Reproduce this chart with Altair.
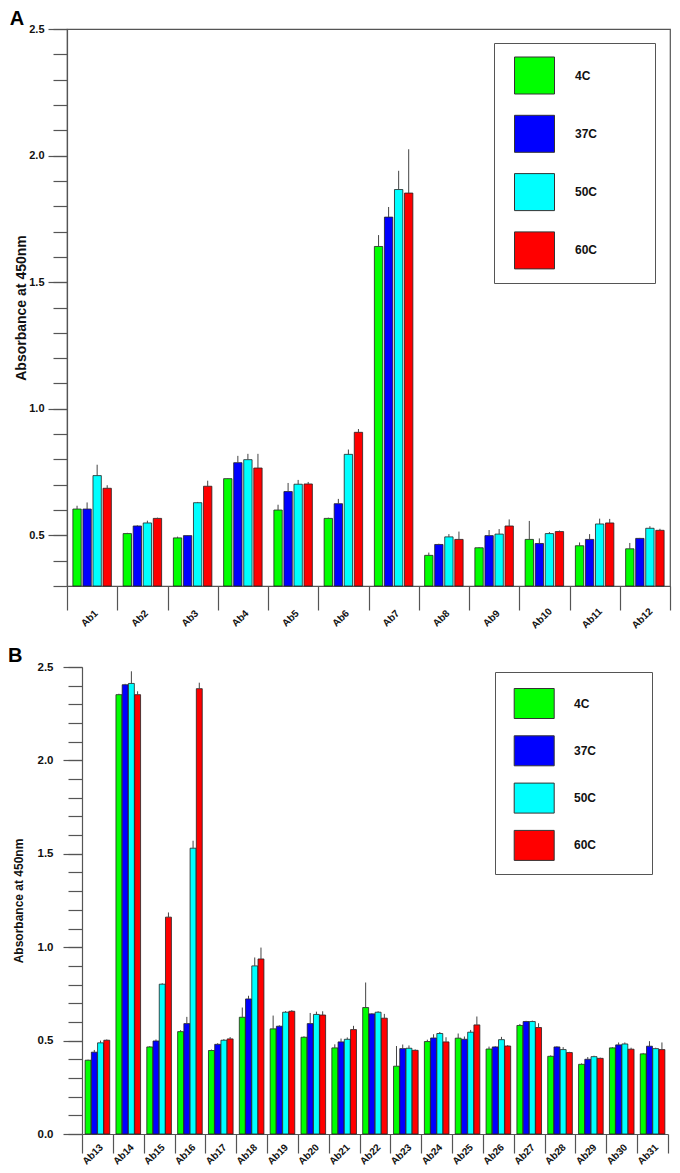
import altair as alt
import pandas as pd

FONT = "Liberation Sans"
temps = ["4C", "37C", "50C", "60C"]
colors = ["#00FF00", "#0000FF", "#00FFFF", "#FF0000"]

# ---------------- Panel A ----------------
cats_a = ["Ab1", "Ab2", "Ab3", "Ab4", "Ab5", "Ab6", "Ab7", "Ab8", "Ab9", "Ab10", "Ab11", "Ab12"]
a_4c = [0.604, 0.507, 0.490, 0.724, 0.600, 0.567, 1.641, 0.421, 0.451, 0.484, 0.459, 0.447]
a_37c = [0.604, 0.537, 0.499, 0.787, 0.673, 0.625, 1.757, 0.464, 0.499, 0.468, 0.484, 0.488]
a_50c = [0.736, 0.549, 0.629, 0.799, 0.702, 0.820, 1.866, 0.494, 0.505, 0.507, 0.545, 0.528]
a_60c = [0.686, 0.567, 0.694, 0.766, 0.703, 0.907, 1.852, 0.484, 0.537, 0.515, 0.549, 0.520]
a_err_4c = [0.013, 0.003, 0.005, 0.002, 0.021, 0.003, 0.045, 0.011, 0.003, 0.073, 0.013, 0.023]
a_err_37c = [0.026, 0.003, 0.002, 0.027, 0.034, 0.019, 0.040, 0.003, 0.022, 0.020, 0.021, 0.002]
a_err_50c = [0.043, 0.009, 0.003, 0.023, 0.017, 0.019, 0.074, 0.011, 0.020, 0.006, 0.021, 0.008]
a_err_60c = [0.012, 0.003, 0.022, 0.056, 0.008, 0.013, 0.173, 0.031, 0.026, 0.004, 0.016, 0.006]

# ---------------- Panel B ----------------
cats_b = ["Ab13", "Ab14", "Ab15", "Ab16", "Ab17", "Ab18", "Ab19", "Ab20", "Ab21", "Ab22",
          "Ab23", "Ab24", "Ab25", "Ab26", "Ab27", "Ab28", "Ab29", "Ab30", "Ab31"]
b_4c = [0.395, 2.352, 0.466, 0.548, 0.447, 0.625, 0.563, 0.518, 0.461, 0.677,
        0.363, 0.495, 0.513, 0.455, 0.581, 0.416, 0.373, 0.461, 0.429]
b_37c = [0.438, 2.405, 0.498, 0.591, 0.480, 0.723, 0.577, 0.591, 0.493, 0.643,
         0.457, 0.514, 0.507, 0.466, 0.602, 0.466, 0.400, 0.477, 0.470]
b_50c = [0.488, 2.412, 0.802, 1.530, 0.502, 0.900, 0.652, 0.640, 0.507, 0.652,
         0.459, 0.538, 0.545, 0.505, 0.602, 0.452, 0.414, 0.482, 0.457]
b_60c = [0.502, 2.352, 1.161, 2.384, 0.509, 0.937, 0.657, 0.637, 0.559, 0.620,
         0.448, 0.493, 0.584, 0.471, 0.570, 0.436, 0.405, 0.454, 0.452]
b_err_4c = [0.003, 0.005, 0.005, 0.008, 0.005, 0.052, 0.071, 0.005, 0.019, 0.134,
            0.108, 0.010, 0.025, 0.013, 0.008, 0.005, 0.005, 0.004, 0.005]
b_err_37c = [0.012, 0.005, 0.008, 0.036, 0.006, 0.017, 0.005, 0.057, 0.018, 0.004,
             0.022, 0.020, 0.015, 0.004, 0.004, 0.004, 0.012, 0.013, 0.027]
b_err_50c = [0.012, 0.065, 0.005, 0.040, 0.006, 0.045, 0.006, 0.015, 0.010, 0.005,
             0.015, 0.008, 0.012, 0.015, 0.005, 0.013, 0.005, 0.008, 0.005]
b_err_60c = [0.004, 0.018, 0.025, 0.032, 0.010, 0.061, 0.006, 0.020, 0.020, 0.023,
             0.005, 0.025, 0.045, 0.005, 0.023, 0.004, 0.004, 0.008, 0.038]

major_ticks = [0.0, 0.5, 1.0, 1.5, 2.0, 2.5]


def make_df(cats, series, errs):
    rows = []
    for t, vals, es in zip(temps, series, errs):
        for c, v, e in zip(cats, vals, es):
            rows.append({"ab": c, "temp": t, "val": v, "top": v + e})
    return pd.DataFrame(rows)


df_a = make_df(cats_a, [a_4c, a_37c, a_50c, a_60c], [a_err_4c, a_err_37c, a_err_50c, a_err_60c])
df_b = make_df(cats_b, [b_4c, b_37c, b_50c, b_60c], [b_err_4c, b_err_37c, b_err_50c, b_err_60c])

GRAY = "#555555"


def panel(df, cats, letter, width, height, ymin, p):
    shift = p["shift"]
    minor = [round(ymin + 0.1 * i, 1) for i in range(int(round((2.5 - ymin) / 0.1)) + 1)]
    major = [v for v in major_ticks if v >= ymin]
    xscale = alt.Scale(paddingInner=0, paddingOuter=0, range=[shift, width])
    x = alt.X("ab:N", sort=cats, title=None, scale=xscale,
              axis=alt.Axis(labelAngle=-45, labelAlign="center", labelBaseline="middle",
                            tickBand="extent", tickSize=p["xtick"], labelPadding=p["xlabpad"],
                            labelOffset=p["xlaboff"], labelFont=FONT, labelFontWeight="bold",
                            labelFontSize=10, labelColor="#111", labelOverlap=False,
                            domainColor=GRAY, tickColor=GRAY, domainWidth=1.2, tickWidth=1.2))
    xo = alt.XOffset("temp:N", sort=temps,
                     scale=alt.Scale(paddingInner=p["pi"], paddingOuter=p["po"]))
    yscale = alt.Scale(domain=[ymin, 2.5], nice=False, zero=False)
    bars = alt.Chart(df).mark_bar(stroke="#222222", strokeWidth=0.8).encode(
        x=x, xOffset=xo,
        y=alt.Y("val:Q", scale=yscale,
                axis=alt.Axis(values=major, format=".1f", tickSize=19, labelPadding=p["ylabpad"],
                              labelFont=FONT, labelFontWeight="bold", labelFontSize=p["ylabfs"],
                              labelColor="#111", grid=False, orient="left", offset=-shift,
                              title="Absorbance at 450nm", titleFont=FONT, titleFontWeight="bold",
                              titleFontSize=p["ytitlefs"], titlePadding=p["ytitlepad"],
                              titleColor="#111", domainColor=GRAY, tickColor=GRAY,
                              domainWidth=1.2, tickWidth=1.2)),
        y2=alt.datum(ymin),
        color=alt.Color("temp:N", sort=temps,
                        scale=alt.Scale(domain=temps, range=colors),
                        legend=alt.Legend(orient="none", legendX=p["lx"], legendY=p["ly"],
                                          title="000000", titleOrient="right", titleOpacity=0,
                                          titleFontSize=12, titlePadding=p["ltpad"],
                                          symbolType=p["sym"], symbolSize=1600,
                                          symbolStrokeColor="#333333", symbolStrokeWidth=1,
                                          labelFont=FONT, labelFontSize=12,
                                          labelFontWeight="bold", labelColor="#111",
                                          rowPadding=p["rowpad"], padding=p["lpad"],
                                          symbolOffset=p["symoff"], labelOffset=p["laboff"],
                                          strokeColor=GRAY)),
    )
    errs = alt.Chart(df).mark_rule(color="#444444", strokeWidth=1).encode(
        x=x, xOffset=xo,
        y=alt.Y("val:Q", scale=yscale,
                axis=alt.Axis(values=minor, labels=False, tickSize=14, domain=False,
                              title=None, orient="left", grid=False, tickColor=GRAY,
                              tickWidth=1.2, offset=-shift)),
        y2="top:Q",
    )
    view = (alt.ViewBackground(stroke=GRAY, strokeWidth=1.2) if shift == 0
            else alt.ViewBackground(strokeOpacity=0))
    return alt.layer(bars, errs).resolve_axis(y="independent").properties(
        width=width, height=height,
        view=view,
        title=alt.TitleParams(letter, anchor="start", frame="bounds", fontSize=20,
                              fontWeight="bold", font=FONT, color="#000", dx=p["tdx"],
                              offset=p["toff"]))


pa = dict(shift=0, xtick=24, xlabpad=8, xlaboff=-3, pi=0.17, po=0.585, ylabpad=4, ylabfs=11,
          ytitlefs=14, ytitlepad=0, lx=427, ly=14, sym="M-1,-0.925H1V0.925H-1Z",
          rowpad=17.3, lpad=12, symoff=8, laboff=20, ltpad=5, tdx=-5, toff=-6)
pb = dict(shift=15, xtick=19, xlabpad=1, xlaboff=-5, pi=0.05, po=0.5, ylabpad=10, ylabfs=11.5,
          ytitlefs=12, ytitlepad=12, lx=428, ly=5, sym="M-1,-0.75H1V0.75H-1Z",
          rowpad=9.3, lpad=11, symoff=7.7, laboff=19.3, ltpad=4, tdx=-4, toff=-5)

chart_a = panel(df_a, cats_a, "A", 603, 557, 0.3, pa)
chart_b = panel(df_b, cats_b, "B", 601, 467, 0.0, pb)

chart = alt.vconcat(chart_a, chart_b, spacing=15).resolve_scale(
    x="independent", xOffset="independent", y="independent", color="independent"
).properties(
    padding={"left": 0, "top": 0, "right": 0, "bottom": 0}
).configure(background="white")

chart.save("out.html", embed_options={"renderer": "svg", "actions": False})
